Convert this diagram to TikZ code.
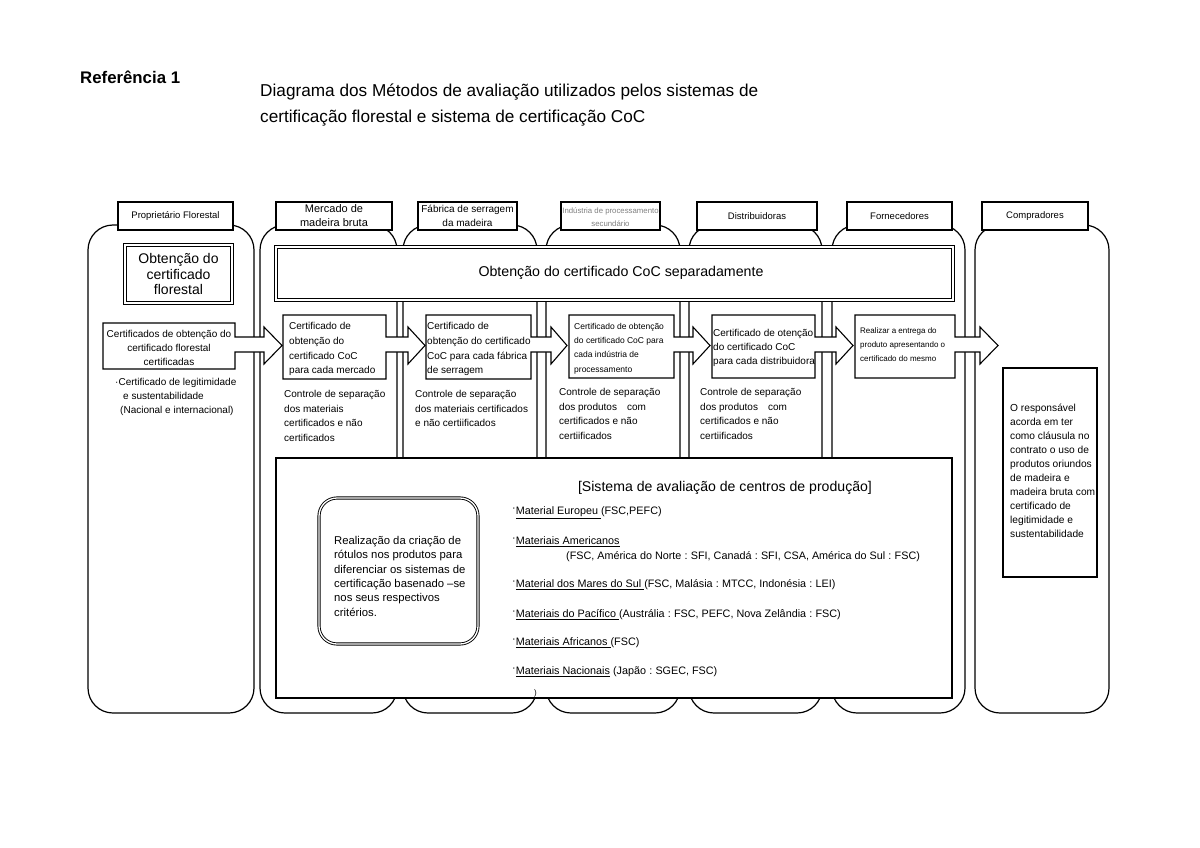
\documentclass[tikz,border=0pt]{standalone}
\usepackage{fontspec}
\setmainfont{Liberation Sans}
\newcommand{\calloutarrow}[6]{%
  \draw[arr] (#1,#2) -- (#3,#2) -- (#3,337) -- (#5,337) -- (#5,327) -- (#6,345.5)
    -- (#5,364) -- (#5,352) -- (#3,352) -- (#3,#4) -- (#1,#4) -- cycle;}
\newcommand{\fsz}[2]{\fontsize{#1}{#2}\selectfont}
\newcommand{\bul}{\raisebox{0.3em}{·}}
\newcommand{\cln}{\hspace{0.3em}:\hspace{0.3em}}
\begin{document}
\begin{tikzpicture}[x=1pt,y=-1pt,
  col/.style={draw, line width=1.2pt, rounded corners=25pt, fill=white},
  hdr/.style={draw, line width=1.1pt, fill=white, minimum height=28pt, inner sep=0pt},
  htxt/.style={inner sep=0pt, align=center},
  dbl/.style={draw, double, double distance=1.3pt, line width=0.9pt, fill=white, inner sep=0pt},
  arr/.style={draw, line width=1.1pt, fill=white, line join=miter},
  plain/.style={draw, line width=1.1pt, fill=white, inner sep=0pt},
  txt/.style={inner sep=0pt, align=left, anchor=north west, execute at begin node=\strut},
  ltxt/.style={inner sep=0pt, anchor=west}
]
\useasboundingbox (0,0) rectangle (1200,848);
\fill[white] (0,0) rectangle (1200,848);

% titles
\node[ltxt, font=\fsz{16.8}{19}\bfseries] (ref) at (80,77) {Referência 1};
\node[ltxt, font=\fsz{17.2}{19}] (ti1) at (260,92) {Diagrama dos Métodos de avaliação utilizados pelos sistemas de};
\node[ltxt, font=\fsz{17.2}{19}] (ti2) at (260,118) {certificação florestal e sistema de certificação CoC};

% columns
\draw[col] (88,225) rectangle (254,713);
\draw[col] (260,225) rectangle (397,713);
\draw[col] (403,225) rectangle (537,713);
\draw[col] (546,225) rectangle (680,713);
\draw[col] (689,225) rectangle (822,713);
\draw[col] (832,225) rectangle (965,713);
\draw[col] (975,225) rectangle (1109,713);

% headers
\node[hdr, minimum width=115pt] (h1) at (175.5,216) {};
\node[htxt, font=\fsz{9.5}{12}] (h1t) at (h1) {Proprietário Florestal};
\node[hdr, minimum width=116pt] (h2) at (334,216) {};
\node[htxt, font=\fsz{11}{14}] (h2t) at (334,215.5) {Mercado de\\madeira bruta};
\node[hdr, minimum width=99pt] (h3) at (467.5,216) {};
\node[htxt, font=\fsz{10}{13.5}] (h3t) at (467.5,216) {Fábrica de serragem\\da madeira};
\node[hdr, minimum width=99pt] (h4) at (610.5,216) {};
\node[htxt, font=\fsz{7.8}{13}, text=gray] (h4t) at (610.5,217) {Indústria de processamento\\secundário};
\node[hdr, minimum width=120pt] (h5) at (757,216) {};
\node[htxt, font=\fsz{9.5}{12}] (h5t) at (h5) {Distribuidoras};
\node[hdr, minimum width=105pt] (h6) at (899.5,216) {};
\node[htxt, font=\fsz{9.5}{12}] (h6t) at (h6) {Fornecedores};
\node[hdr, minimum width=106pt] (h7) at (1035,216) {};
\node[htxt, font=\fsz{9.5}{12}] (h7t) at (h7) {Compradores};

% big double boxes
\node[dbl, minimum width=677pt, minimum height=53pt] (coc) at (614.5,273.5) {};
\node[htxt, font=\fsz{14.2}{16}] (coct) at (621,273) {Obtenção do certificado CoC separadamente};
\node[dbl, minimum width=107pt, minimum height=58pt] (flo) at (178.5,274) {};
\node[htxt, font=\fsz{14}{15.5}] (flot) at (flo) {Obtenção do\\certificado\\florestal};

% callout arrows
\calloutarrow{103}{323}{235}{369}{264}{282}
\calloutarrow{283}{315}{386}{379}{408}{425}
\calloutarrow{426}{315}{531}{379}{551}{567}
\calloutarrow{569}{315}{674}{378}{693}{710}
\calloutarrow{712}{315}{815}{378}{836}{853}
\calloutarrow{855}{315}{955}{378}{980}{998}

\node[htxt, font=\fsz{10}{14}] (b1) at (169,347.5) {Certificados de obtenção do\\certificado florestal\\certificadas};
\node[txt, font=\fsz{10}{14.6}] (b2) at (289,322.5) {Certificado de\\obtenção do\\certificado CoC\\para cada mercado};
\node[txt, font=\fsz{10}{14.6}] (b3) at (427,322.5) {Certificado de\\obtenção do certificado\\CoC para cada fábrica\\de serragem};
\node[txt, font=\fsz{8.5}{14.3}] (b4) at (574,323) {Certificado de obtenção\\do certificado CoC para\\cada indústria de\\processamento};
\node[txt, font=\fsz{10}{14}] (b5) at (713,329) {Certificado de otenção\\do certificado CoC\\para cada distribuidora};
\node[txt, font=\fsz{8}{14}] (b6) at (860,328) {Realizar a entrega do\\produto apresentando o\\certificado do mesmo};

% texts below
\node[txt, font=\fsz{10}{14}] (t1) at (115,378) {·Certificado de legitimidade\\\hspace*{8pt}e sustentabilidade\\\hspace*{5pt}(Nacional e internacional)};
\node[txt, font=\fsz{10}{14.5}] (t2) at (284,390.5) {Controle de separação\\dos materiais\\certificados e não\\certificados};
\node[txt, font=\fsz{10}{14.5}] (t3) at (415,390.5) {Controle de separação\\dos materiais certificados\\e não certiificados};
\node[txt, font=\fsz{10}{14.5}] (t4) at (559,388.5) {Controle de separação\\dos produtos\quad com\\certificados e não\\certiificados};
\node[txt, font=\fsz{10}{14.5}] (t5) at (700,388.5) {Controle de separação\\dos produtos\quad com\\certificados e não\\certiificados};

% bottom box
\node[plain, minimum width=676pt, minimum height=240pt] (sys) at (614,578) {};
\node[dbl, rounded corners=18pt, minimum width=159pt, minimum height=146pt] (lab) at (398.5,571) {};
\node[txt, font=\fsz{11.3}{14.4}] (labt) at (334,536) {Realização da criação de\\rótulos nos produtos para\\diferenciar os sistemas de\\certificação basenado –se\\nos seus respectivos\\critérios.};
\node[htxt, font=\fsz{14.1}{16}] (head) at (725,488) {[Sistema de avaliação de centros de produção]};
\node[ltxt, font=\fsz{10.8}{13}] (l1) at (512,513) {\bul\underline{Material Europeu\ }(FSC,PEFC)};
\node[ltxt, font=\fsz{10.8}{13}] (l2) at (512,542) {\bul\underline{Materiais Americanos}};
\node[ltxt, font=\fsz{10.8}{13}] (l2b) at (566,557) {(FSC, América do Norte\cln SFI, Canadá\cln SFI, CSA, América do Sul\cln FSC)};
\node[ltxt, font=\fsz{10.8}{13}] (l3) at (512,585) {\bul\underline{Material dos Mares do Sul\ }(FSC, Malásia\cln MTCC, Indonésia\cln LEI)};
\node[ltxt, font=\fsz{10.8}{13}] (l4) at (512,615) {\bul\underline{Materiais do Pacífico\ }(Austrália\cln FSC, PEFC, Nova Zelândia\cln FSC)};
\node[ltxt, font=\fsz{10.8}{13}] (l5) at (512,643) {\bul\underline{Materiais Africanos\ }(FSC)};
\node[ltxt, font=\fsz{10.8}{13}] (l6) at (512,672) {\bul\underline{Materiais Nacionais} (Japão\cln SGEC, FSC)};
\node[ltxt, font=\fsz{8}{10}] (par) at (534,693) {)};

% buyers box
\node[plain, minimum width=94pt, minimum height=209pt] (buy) at (1050,472.5) {};
\node[txt, font=\fsz{10.2}{14}] (buyt) at (1010,404) {O responsável\\acorda em ter\\como cláusula no\\contrato o uso de\\produtos oriundos\\de madeira e\\madeira bruta com\\certificado de\\legitimidade e\\sustentabilidade};
\end{tikzpicture}
\end{document}
